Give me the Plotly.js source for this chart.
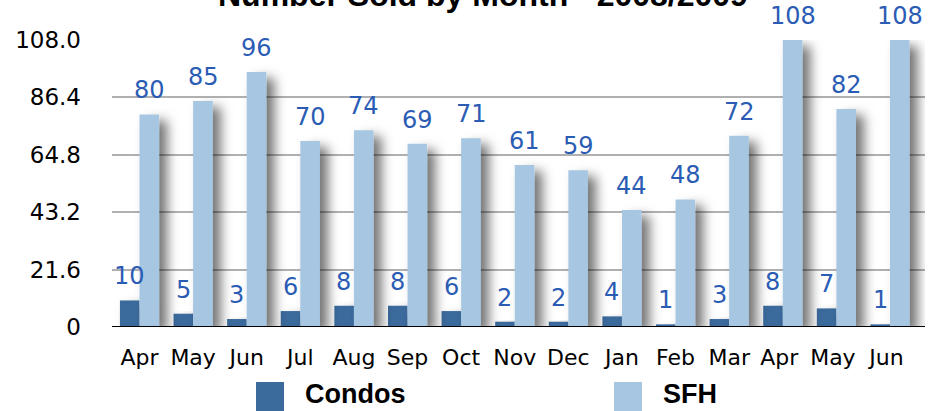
<!DOCTYPE html>
<html><head><meta charset="utf-8">
<script src="https://cdn.plot.ly/plotly-3.0.1.min.js"></script>
<style>html,body{margin:0;padding:0;background:#fff;}#chart{width:948px;height:411px;}</style>
</head><body><div id="chart"></div>
<script>
const months = ["Apr","May","Jun","Jul","Aug","Sep","Oct","Nov","Dec","Jan","Feb","Mar","Apr ","May ","Jun "];
const condos = [10,5,3,6,8,8,6,2,2,4,1,3,8,7,1];
const sfh = [80,85,96,70,74,69,71,61,59,44,48,72,108,82,108];
const tickVals = [0,21.6,43.2,64.8,86.4,108];
const tickText = ["0","21.6","43.2","64.8","86.4","108.0"];
const seriesNames = ["Condos","SFH"];
const titleText = "Number Sold by Month - 2008/2009";
const colors = ["#3b6a9c","#a6c6e2"];
const labelColor = "#2b5cb4";
const font = "DejaVu Sans, Verdana, sans-serif";
const boldFont = "Liberation Sans, Arial, Helvetica, sans-serif";

const traces = [condos, sfh].map((vals,i)=>({
  type:"bar", x:months, y:vals, name:seriesNames[i],
  marker:{color:colors[i], line:{width:0}}, cliponaxis:false, hoverinfo:"none"
}));

const annotations = [];
[condos, sfh].forEach((vals,i)=>{
  vals.forEach((v,j)=>{
    annotations.push({x:months[j], y:v, xref:"x", yref:"y", text:String(v), showarrow:false,
      xanchor:"center", yanchor:"bottom", xshift: i===0?-10:10, yshift:8,
      font:{family:font, size:24, color:labelColor}});
  });
});
// title (partly cut off at the top edge as in the reference)
annotations.push({xref:"paper", yref:"paper", x:(483-112)/813, y:1+(40+5)/287, xanchor:"center", yanchor:"middle",
  text:"<b>"+titleText+"</b>", showarrow:false, font:{family:boldFont, size:32, color:"#000"}});
// legend drawn manually
const legendX = [[256,284,303],[614,642,661]];
const shapes = [];
seriesNames.forEach((n,i)=>{
  shapes.push({type:"rect", xref:"paper", yref:"paper",
    x0:(legendX[i][0]-112)/813, x1:(legendX[i][1]-112)/813,
    y0:-(382-327)/287, y1:-(411-327)/287, fillcolor:colors[i], line:{width:0}});
  annotations.push({xref:"paper", yref:"paper", x:(legendX[i][2]-112)/813, y:-(394-327)/287,
    xanchor:"left", yanchor:"middle", text:"<b>"+n+"</b>", showarrow:false,
    font:{family:boldFont, size:27, color:"#000"}});
});
shapes.push({type:"line", xref:"paper", yref:"y", x0:0, x1:1, y0:0, y1:0, line:{color:"#000", width:2}});

const layout = {
  width:948, height:411,
  margin:{l:112, r:23, t:40, b:84},
  paper_bgcolor:"#fff", plot_bgcolor:"#fff",
  barmode:"group", bargap:0.27, bargroupgap:0,
  showlegend:false,
  xaxis:{type:"category", showgrid:false, zeroline:false, showline:false, ticks:"",
    tickfont:{family:font, size:22, color:"#000"}, ticklabelstandoff:15},
  yaxis:{range:[0,108], tickvals:tickVals, ticktext:tickText, showgrid:true, gridcolor:"#b0b0b0", gridwidth:2,
    zeroline:false, showline:false, ticks:"", tickfont:{family:font, size:23, color:"#000"}, ticklabelstandoff:30},
  annotations:annotations, shapes:shapes
};
Plotly.newPlot("chart", traces, layout, {staticPlot:true, displayModeBar:false}).then(gd=>{
  const svg = gd.querySelector("svg.main-svg");
  const ns = "http://www.w3.org/2000/svg";
  let defs = svg.querySelector("defs");
  const f = document.createElementNS(ns,"filter");
  f.setAttribute("id","barshadow");
  f.setAttribute("x","-100%"); f.setAttribute("y","-20%");
  f.setAttribute("width","400%"); f.setAttribute("height","160%");
  f.innerHTML = '<feDropShadow dx="8" dy="6" stdDeviation="6" flood-color="#000" flood-opacity="0.55"/>';
  defs.appendChild(f);
  gd.querySelectorAll(".barlayer .trace .point path").forEach(p=>p.setAttribute("filter","url(#barshadow)"));
});
</script></body></html>
